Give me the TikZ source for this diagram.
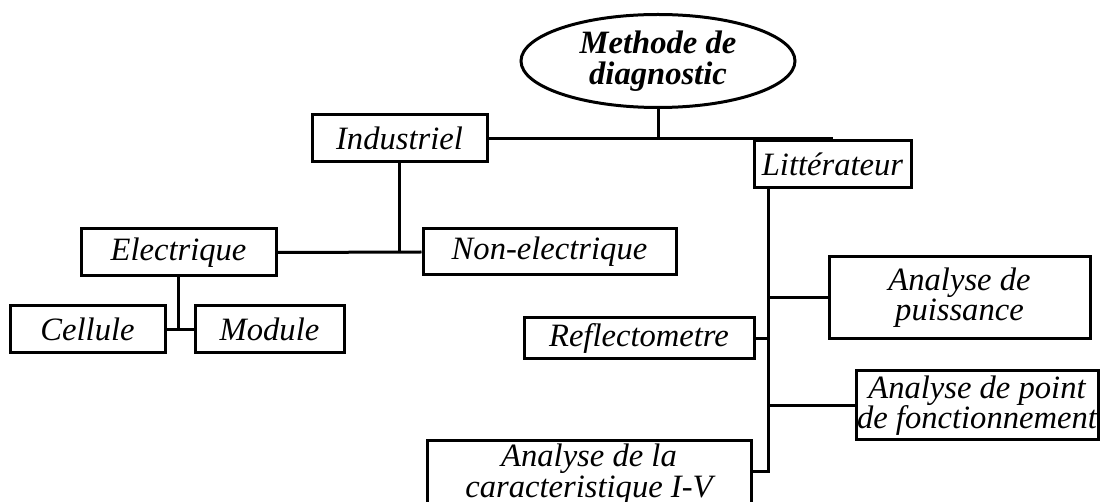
\documentclass[tikz,border=0pt]{standalone}
\usepackage{fontspec}
\setmainfont{Liberation Serif}[
  ItalicFont={Liberation Serif Italic},
  BoldItalicFont={Liberation Serif Bold Italic}]
\usetikzlibrary{shapes.geometric}
\tikzset{
  box/.style={draw, line width=1.5pt, inner sep=0pt, align=center,
    font=\itshape\fontsize{16.3}{15}\selectfont},
  rootbox/.style={box, ellipse, font=\bfseries\itshape\fontsize{16.3}{15.5}\selectfont},
  link/.style={line width=1.5pt},
}
\begin{document}
\begin{tikzpicture}[x=0.5pt, y=-0.5pt]
    \useasboundingbox (0,0) rectangle (1100,502);
    \node[rootbox, minimum width=137pt, minimum height=46.5pt] (root) at (658,61) {Methode de\\diagnostic};
    \node[box, minimum width=87.5pt, minimum height=23.5pt] (ind) at (399.5,138.5) {Industriel};
    \node[box, minimum width=78.5pt, minimum height=23.5pt] (lit) at (832.5,164.5) {Littérateur};
    \node[box, minimum width=97.5pt, minimum height=23.5pt] (elec) at (178.5,252.5) {Electrique};
    \node[box, minimum width=126.5pt, minimum height=23pt] (nonelec) at (549.5,252) {Non-electrique};
    \node[box, minimum width=77.5pt, minimum height=23.5pt] (cell) at (87.5,329.5) {Cellule};
    \node[box, minimum width=74.5pt, minimum height=23.5pt] (mod) at (269.5,329.5) {Module};
    \node[box, minimum width=115pt, minimum height=20.5pt] (refl) at (639,338.5) {Reflectometre};
    \node[box, minimum width=130.5pt, minimum height=41pt] (puis) at (959.5,298) {Analyse de\\puissance};
    \node[box, minimum width=121pt, minimum height=34.5pt] (point) at (977,405.5) {Analyse de point\\de fonctionnement};
    \node[box, minimum width=162pt, minimum height=33pt,
      font=\itshape\fontsize{16.3}{14}\selectfont] (carac) at (589,474) {Analyse de la\\caracteristique I-V};
    \coordinate (trunk) at ([xshift=8pt]lit.south west);
    \coordinate (caracin) at ([yshift=1pt]carac.east);
    \draw[link] (root.south) -- (root.south |- ind.east);
    \draw[link] (ind.east) -- (ind.east -| lit.north);
    \draw[link] (ind.south) -- (ind.south |- elec.east);
    \draw[link] (elec.east) -- (nonelec.west);
    \draw[link] (elec.south) -- (elec.south |- cell.east);
    \draw[link] (cell.east) -- (mod.west);
    \draw[link] (trunk) -- (trunk |- caracin) -- (caracin);
    \draw[link] (trunk |- puis.west) -- (puis.west);
    \draw[link] (trunk |- refl.east) -- (refl.east);
    \draw[link] (trunk |- point.west) -- (point.west);
\end{tikzpicture}
\end{document}
